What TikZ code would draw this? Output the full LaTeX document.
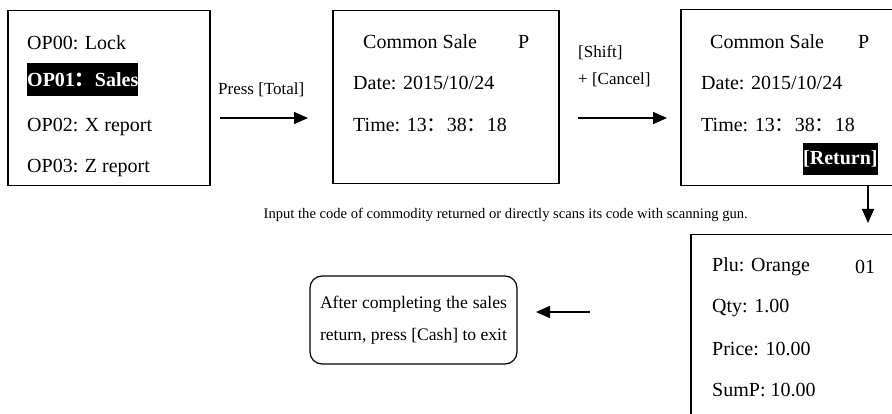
\documentclass[tikz,border=0pt]{standalone}
\usepackage{fontspec}
\setmainfont{Liberation Serif}
\newfontfamily\cjk{Noto Sans CJK SC}
\usetikzlibrary{arrows.meta}
\newcommand{\fc}{{\cjk ：}}
\begin{document}
\begin{tikzpicture}[x=1pt,y=-1pt,
 screen/.style={draw, line width=1.5pt, anchor=north west, inner sep=0pt},
 txt/.style={font=\fontsize{20}{24}\selectfont, anchor=west, inner sep=0pt},
 lbl/.style={font=\fontsize{17}{20}\selectfont, anchor=west, inner sep=0pt},
 conn/.style={line width=1.5pt, -{Triangle[length=14pt,width=12pt]}},
 hl/.style={fill=black, text=white, font=\fontsize{20}{24}\selectfont\bfseries, inner xsep=0pt, inner ysep=0pt, minimum height=33pt, anchor=west}]
\useasboundingbox (0,0) rectangle (892,414);
\clip (0,0) rectangle (892,414);
% screens
\node[screen, minimum width=202pt, minimum height=175pt] (b1) at (7,10) {};
\node[screen, minimum width=226pt, minimum height=173pt] (b2) at (332,10) {};
\node[screen, minimum width=240pt, minimum height=176pt] (b3) at (680,9) {};
\node[screen, minimum width=230pt, minimum height=220pt] (b4) at (690,234) {};
% box 1
\node[txt] (t11) at (27,43) {OP00: Lock};
\node[hl] (t12) at (27,80) {OP01\fc Sales};
\node[txt] (t13) at (27,127) {OP02: X report};
\node[txt] (t14) at (27,168) {OP03: Z report};
% box 2
\node[txt] (t21) at (363,42) {Common Sale};
\node[txt] (t22) at (518,42) {P};
\node[txt] (t23) at (353,83) {Date: 2015/10/24};
\node[txt] (t24) at (353,125) {Time: 13\fc 38\fc 18};
% box 3
\node[txt] (t31) at (710,42) {Common Sale};
\node[txt] (t32) at (858,42) {P};
\node[txt] (t33) at (701,83) {Date: 2015/10/24};
\node[txt] (t34) at (701,125) {Time: 13\fc 38\fc 18};
\node[hl, minimum height=32pt] (t35) at (803,159) {[Return]};
% box 4
\node[txt] (t41) at (712,267) {Plu: Orange};
\node[txt] (t42) at (855,267) {01};
\node[txt] (t43) at (712,308) {Qty: 1.00};
\node[txt] (t44) at (712,349) {Price: 10.00};
\node[txt] (t45) at (712,390) {SumP: 10.00};
% rounded box
\node[draw, line width=1.2pt, rounded corners=12pt, text width=187pt, inner xsep=10pt,
      minimum height=88pt, align=justify, font=\fontsize{17.6}{32}\selectfont] (rb) at (413.5,320)
  {After completing the sales return, press [Cash] to exit};
% labels
\node[lbl] (l1) at (218,90) {Press [Total]};
\node[lbl] (l2) at (578,53) {[Shift]};
\node[lbl] (l3) at (578,80) {+ [Cancel]};
\node[font=\fontsize{14.6}{17}\selectfont, anchor=east, inner sep=0pt] (cap) at (748,215)
  {Input the code of commodity returned or directly scans its code with scanning gun.};
% connectors
\coordinate (a1s) at (220,118);
\coordinate (a1e) at (308,118);
\coordinate (a2s) at (578,118);
\coordinate (a2e) at (667,118);
\coordinate (a3s) at (868,186);
\coordinate (a3e) at (868,223);
\coordinate (a4s) at (590,312);
\coordinate (a4e) at (536,312);
\draw[conn] (a1s) -- (a1e);
\draw[conn] (a2s) -- (a2e);
\draw[conn] (a3s) -- (a3e);
\draw[conn] (a4s) -- (a4e);
\end{tikzpicture}
\end{document}
